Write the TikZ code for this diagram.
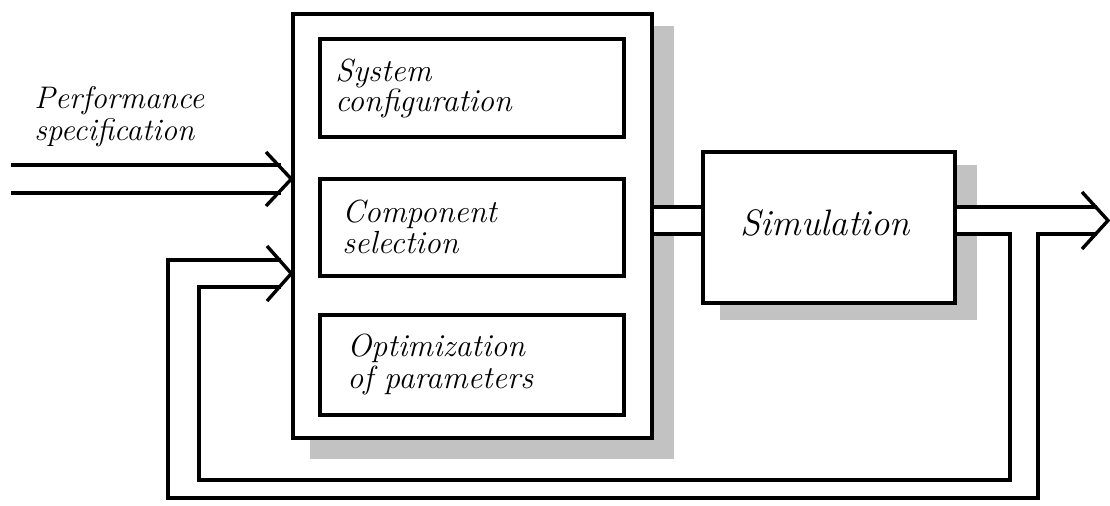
\documentclass[tikz,border=0pt]{standalone}
\usetikzlibrary{calc,backgrounds}
\begin{document}
\begin{tikzpicture}[x=0.5pt,y=-0.5pt,
  frame/.style={draw, fill=white, line width=1.7pt, inner sep=0pt},
  shade/.style={fill=black!24},
  wire/.style={line width=1.7pt, line cap=butt, line join=miter},
  lbl/.style={inner sep=0pt, anchor=base west, font=\fontsize{16}{19}\selectfont\itshape},
  inlbl/.style={lbl, font=\fontsize{15.6}{19}\selectfont\itshape},
  biglbl/.style={inner sep=0pt, anchor=base, font=\fontsize{18.4}{22}\selectfont\itshape}]
\useasboundingbox (0,0) rectangle (1110,505);

% the design block and the simulation block
\node[frame, minimum width=179.5pt, minimum height=212pt] (main) at (472.5,226) {};
\node[frame, minimum width=126pt, minimum height=75.5pt] (sim) at (829,227.5) {};

% drop shadows behind both blocks
\begin{scope}[on background layer]
\fill[shade] ($(main.south west)+(19,19)$) rectangle ($(main.north east)+(20,14)$);
\fill[shade] ($(sim.south west)+(19,15)$) rectangle ($(sim.north east)+(20,15)$);
\end{scope}

% the three tasks inside the design block
\node[frame, minimum width=152pt, minimum height=49pt] (conf) at (472,88) {};
\node[frame, minimum width=152pt, minimum height=48.5pt] (comp) at (472,227.5) {};
\node[frame, minimum width=152pt, minimum height=50pt] (opt) at (472,365) {};

\node[lbl] (c1) at (335,81) {System};
\node[lbl] (c2) at (335,111) {configuration};
\node[lbl] (s1) at (342,222) {Component};
\node[lbl] (s2) at (342,253) {selection};
\node[lbl] (o1) at (347,356) {Optimization};
\node[lbl] (o2) at (347,388) {of parameters};
\node[biglbl] (simtxt) at (825,235) {Simulation};

\node[inlbl] (p1) at (34,108) {Performance};
\node[inlbl] (p2) at (34,140) {specification};

% levels of the double-line channels
\coordinate (hi) at (0,207);
\coordinate (lo) at (0,234);

% channel from the design block to the simulation
\fill[white] (main.east |- hi) rectangle (sim.west |- lo);
\draw[wire] (main.east |- hi) -- (sim.west |- hi);
\draw[wire] (main.east |- lo) -- (sim.west |- lo);

% output channel over the simulation shadow
\fill[white] (sim.east |- hi) rectangle ($(sim.east |- lo)+(20,0)$);

% input: performance specification
\coordinate (inA) at (11,165);
\coordinate (inB) at (11,193);
\coordinate (inTip) at (main.west |- 0,179);
\draw[wire] (inA) -- (281,165);
\draw[wire] (inB) -- (281,193);
\draw[wire] (266,152) -- (inTip) -- (266,206);

% output arrow and the two feedback loops
\coordinate (outTip) at (1108,220.5);
\draw[wire] (sim.east |- hi) -- (1097,207);
\draw[wire] (1097,234) -- (1038,234) -- (1038,498) -- (168,498) -- (168,260) -- (281,260);
\draw[wire] (sim.east |- lo) -- (1010,234) -- (1010,480) -- (199,480) -- (199,287) -- (281,287);
\draw[wire] (1082,192) -- (outTip) -- (1082,249);

% feedback arrow into the design block
\coordinate (fbTip) at (main.west |- 0,273.5);
\draw[wire] (267,246) -- (fbTip) -- (267,301);
\end{tikzpicture}
\end{document}
